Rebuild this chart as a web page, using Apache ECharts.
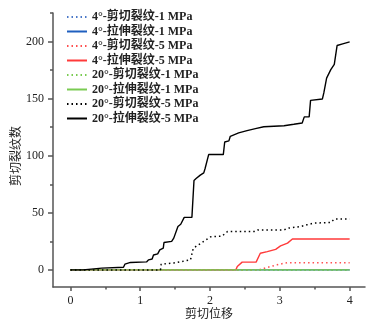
<!DOCTYPE html>
<html>
<head>
<meta charset="utf-8">
<script src="https://cdn.jsdelivr.net/npm/echarts@6/dist/echarts.min.js"></script>
<style>
html,body{margin:0;padding:0;background:#fff;}
#chart{width:385px;height:329px;}
</style>
</head>
<body>
<div id="chart"></div>
<script>
// ---- data ----
const seriesNames = [
  '4°-剪切裂纹-1 MPa','4°-拉伸裂纹-1 MPa','4°-剪切裂纹-5 MPa','4°-拉伸裂纹-5 MPa',
  '20°-剪切裂纹-1 MPa','20°-拉伸裂纹-1 MPa','20°-剪切裂纹-5 MPa','20°-拉伸裂纹-5 MPa'
];
const shear4_1 = [[0,0],[4,0]];
const tensile4_1 = [[0,0],[4,0]];
const shear4_5 = [[0,0],[2.70,0],[2.72,1.5],[2.87,3],[2.96,4.4],[3.06,5.8],[3.11,6.2],[4,6.2]];
const tensile4_5 = [[0,0],[2.37,0],[2.39,3],[2.46,6.8],[2.66,6.8],[2.72,14.6],[2.82,16],[2.94,18],[3.01,21],[3.11,23.4],[3.18,27],[4,27]];
const shear20_1 = [[0,0],[4,0]];
const tensile20_1 = [[0,0],[4,0]];
const shear20_5 = [[0,0],[1.29,0],[1.30,5],[1.48,6],[1.72,8.8],[1.76,19],[1.86,23],[2.01,29],[2.17,29.5],[2.25,33.6],[2.63,33.6],[2.68,35],[3.06,35],[3.11,36.5],[3.30,38],[3.39,39.5],[3.49,41],[3.73,41.5],[3.78,44.5],[4,44.5]];
const tensile20_5 = [[0,0],[0.18,0],[0.19,1.5],[0.45,1.5],[0.46,2.3],[0.76,2.3],[0.78,5],[0.86,6.5],[1.09,7],[1.12,8.8],[1.17,9.5],[1.19,13],[1.25,14],[1.28,17.5],[1.33,19],[1.34,24],[1.45,25],[1.48,27.8],[1.54,38],[1.58,40],[1.63,46],[1.74,46],[1.77,78.3],[1.80,80],[1.86,83],[1.91,85],[1.93,89],[1.98,101],[2.19,101],[2.21,112],[2.27,113],[2.29,117],[2.41,120],[2.53,122],[2.65,123.7],[2.77,125.4],[3.06,126.3],[3.08,127.5],[3.20,127.5],[3.22,128.7],[3.32,128.7],[3.35,134],[3.42,134],[3.44,148.5],[3.61,149.7],[3.63,155],[3.67,168],[3.73,175.4],[3.78,180],[3.82,196.5],[3.90,198],[4.0,199.7]];
const seriesData = [shear4_1, tensile4_1, shear4_5, tensile4_5, shear20_1, tensile20_1, shear20_5, tensile20_5];
const xTickLabels = [0,1,2,3,4];
const yTickLabels = [0,50,100,150,200];

// ---- styles / layout ----
const colors = ['#4a78c8','#1f5fbf','#ff5050','#ff3a3a','#7acb52','#7acb52','#000000','#000000'];
const dotted = [true,false,true,false,true,false,true,false];
const fontFam = '"Liberation Serif","Noto Sans CJK SC",serif';
const axisColor = '#555';
const W = 385, H = 329;
const G = {left:53, right:20, top:13, bottom:42};
const xMin = -0.25, xMax = 4.22, yMin = -15, yMax = 225;
const px = (W - G.left - G.right) / (xMax - xMin);
const py = (H - G.top - G.bottom) / (yMax - yMin);
const xPix = v => G.left + (v - xMin) * px;
const yPix = v => G.top + (yMax - v) * py;

const chart = echarts.init(document.getElementById('chart'), null, {renderer:'canvas'});

const hiddenAxis = (gi) => ({type:'value', gridIndex:gi, show:false});
const tickAxis = (gi, min, max, interval, len, pos) => ({
  type:'value', gridIndex:gi, min, max, interval, position:pos,
  axisLine:{show:false, onZero:false},
  axisTick:{show:true, inside:false, length:len, lineStyle:{color:axisColor, width:1.5}},
  axisLabel:{show:false}, splitLine:{show:false}
});

chart.setOption({
  backgroundColor:'#fff',
  animation:false,
  grid:[
    Object.assign({containLabel:false, outerBoundsMode:'none'}, G),
    {left:G.left, right:G.right, top:yPix(200), bottom:H - yPix(0), outerBoundsMode:'none'},
    {left:G.left, right:G.right, top:yPix(225), bottom:H - yPix(25), outerBoundsMode:'none'},
    {left:xPix(0), right:W - xPix(4), top:G.top, bottom:G.bottom, outerBoundsMode:'none'},
    {left:xPix(0.5), right:W - xPix(3.5), top:G.top, bottom:G.bottom, outerBoundsMode:'none'}
  ],
  legend:{
    orient:'vertical', left:61, top:5,
    itemWidth:20, itemHeight:14, itemGap:0.5,
    data:seriesNames,
    itemStyle:{opacity:0},
    textStyle:{fontFamily:fontFam, fontSize:12, fontWeight:'bold', color:'#222', lineHeight:14}
  },
  xAxis:[{
    type:'value', gridIndex:0, min:xMin, max:xMax,
    name:'剪切位移', nameLocation:'middle', nameGap:22, nameMoveOverlap:false,
    nameTextStyle:{fontFamily:fontFam, fontSize:12, color:'#222'},
    axisLine:{show:true, onZero:false, lineStyle:{color:axisColor, width:1.5}},
    axisTick:{show:false},
    axisLabel:{customValues:xTickLabels, margin:8, fontFamily:fontFam, fontSize:12, color:'#222'},
    splitLine:{show:false}
  },
    hiddenAxis(1), hiddenAxis(2),
    tickAxis(3, 0, 4, 1, 4, 'bottom'),
    tickAxis(4, 0.5, 3.5, 1, 2.5, 'bottom')
  ],
  yAxis:[{
    type:'value', gridIndex:0, min:yMin, max:yMax,
    name:'剪切裂纹数', nameLocation:'middle', nameGap:30, nameRotate:90, nameMoveOverlap:false,
    nameTextStyle:{fontFamily:fontFam, fontSize:12, color:'#222', padding:[0,12,0,0]},
    axisLine:{show:true, onZero:false, lineStyle:{color:axisColor, width:1.5}},
    axisTick:{show:false},
    axisLabel:{customValues:yTickLabels, margin:9, fontFamily:fontFam, fontSize:12, color:'#222'},
    splitLine:{show:false}
  },
    tickAxis(1, 0, 200, 50, 5, 'left'),
    tickAxis(2, 25, 225, 50, 3, 'left'),
    hiddenAxis(3), hiddenAxis(4)
  ],
  series: seriesNames.map((n,i)=>({
    name:n, type:'line', data:seriesData[i], symbol:'none', smooth:false,
    xAxisIndex:0, yAxisIndex:0,
    lineStyle:{color:colors[i], width:dotted[i]?1.5:1.4, type:dotted[i]?[1.5,3]:'solid'},
    itemStyle:{color:colors[i]},
    z:2+i
  }))
});
</script>
</body>
</html>
